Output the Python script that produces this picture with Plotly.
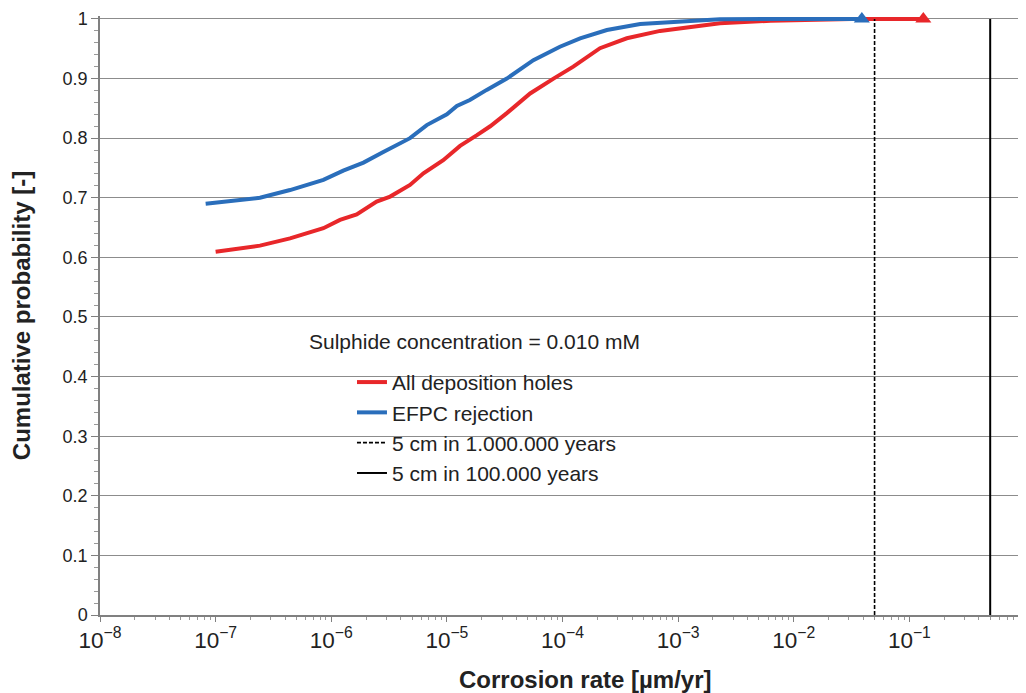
import plotly.graph_objects as go

# ---- data ----
all_rate = [1e-7, 2.42e-7, 4.4e-7, 8.55e-7, 1.19e-6, 1.66e-6, 2.47e-6, 3.23e-6, 4.8e-6,
            6.27e-6, 9.3e-6, 1.3e-5, 1.82e-5, 2.37e-5, 3.3e-5, 5.25e-5, 8.36e-5, 1.24e-4,
            2.11e-4, 3.6e-4, 6.98e-4, 1.19e-3, 2.3e-3, 6.3e-3, 1.58e-2, 3.16e-2, 0.132]
all_prob = [0.6096, 0.6197, 0.632, 0.649, 0.663, 0.672, 0.6935, 0.702, 0.7215,
            0.741, 0.763, 0.787, 0.805, 0.820, 0.842, 0.875, 0.900, 0.920,
            0.951, 0.9676, 0.980, 0.986, 0.993, 0.997, 0.999, 1.0, 1.0]

efpc_rate = [8.2e-8, 2.42e-7, 4.4e-7, 8.55e-7, 1.27e-6, 1.9e-6, 2.82e-6, 4.8e-6, 6.7e-6,
             1.0e-5, 1.22e-5, 1.58e-5, 2.21e-5, 3.3e-5, 5.6e-5, 9.5e-5, 1.42e-4, 2.42e-4,
             4.7e-4, 9.1e-4, 2.3e-3, 1e-2, 0.0388]
efpc_prob = [0.690, 0.700, 0.713, 0.730, 0.7455, 0.759, 0.777, 0.800, 0.822,
             0.840, 0.854, 0.864, 0.881, 0.900, 0.931, 0.9535, 0.9676, 0.9815,
             0.9916, 0.9955, 0.9995, 1.0, 1.0]

limit_names = ["5 cm in 1.000.000 years", "5 cm in 100.000 years"]
limit_rates = [0.05, 0.5]

series_names = ["All deposition holes", "EFPC rejection"]
annotation_text = "Sulphide concentration = 0.010 mM"
x_title = "Corrosion rate [µm/yr]"
y_title = "Cumulative probability [-]"

RED = "#E8272A"
BLUE = "#2A6EBB"
FONT = "Liberation Sans, Arial, sans-serif"
TXT = "#222222"
GRID = "#8C8C8C"
YTOP = 1.005  # small headroom so the lines at probability 1 are not clipped

fig = go.Figure()

for name, xs, ys, col in [(series_names[0], all_rate, all_prob, RED),
                          (series_names[1], efpc_rate, efpc_prob, BLUE)]:
    fig.add_trace(go.Scatter(x=xs, y=ys, mode="lines", name=name,
                             line=dict(color=col, width=4), legendgroup=name))
    fig.add_trace(go.Scatter(x=[xs[-1]], y=[ys[-1]], mode="markers", showlegend=False,
                             legendgroup=name, cliponaxis=False,
                             marker=dict(symbol="triangle-up", size=14, color=col)))

for name, r, dash, w in [(limit_names[0], limit_rates[0], "4px,2px", 1.6),
                         (limit_names[1], limit_rates[1], "solid", 2)]:
    fig.add_trace(go.Scatter(x=[r, r], y=[0, 1], mode="lines", name=name, legendgroup=name,
                             line=dict(color="black", width=w, dash=dash)))

# white box behind the legend (covers the grid lines, as in the reference)
fig.add_shape(type="rect", xref="paper", yref="paper", x0=0.2216, x1=0.591, y0=0.21, y1=0.4225,
              fillcolor="white", line=dict(width=0), layer="between")

fig.add_annotation(text=annotation_text, xref="paper", yref="paper", x=0.405, y=0.456,
                   showarrow=False, xanchor="center", yanchor="middle",
                   font=dict(family=FONT, size=21, color=TXT))
fig.add_annotation(text="<b>" + x_title + "</b>", xref="paper", yref="paper", x=0.525, y=-0.1085,
                   showarrow=False, xanchor="center", yanchor="middle",
                   font=dict(family=FONT, size=24, color=TXT))

fig.update_layout(
    width=1018, height=685,
    margin=dict(l=92, r=1, t=8, b=78),
    paper_bgcolor="white", plot_bgcolor="white",
    font=dict(family=FONT, size=18, color=TXT),
    legend=dict(x=0.2724, y=0.4225, xanchor="left", yanchor="top",
                bgcolor="rgba(0,0,0,0)", borderwidth=0, tracegroupgap=0,
                font=dict(family=FONT, size=21, color=TXT)),
    xaxis=dict(type="log", range=[-8, 0], dtick=1, exponentformat="power",
               showexponent="all", showgrid=False, zeroline=False,
               showline=True, linecolor="#808080", linewidth=1.5,
               ticks="outside", ticklen=5, tickcolor="#808080",
               minor=dict(ticks="outside", ticklen=3, tickcolor="#999999", dtick="D1", showgrid=False),
               tickfont=dict(size=18, color=TXT), automargin=False),
    yaxis=dict(range=[0, YTOP], tick0=0, dtick=0.1, showgrid=True, gridcolor=GRID, gridwidth=1,
               zeroline=False, showline=True, linecolor="#808080", linewidth=1.5,
               ticks="outside", ticklen=7, tickcolor="#808080",
               minor=dict(ticks="outside", ticklen=4, tickcolor="#999999", dtick=0.02, showgrid=False),
               tickfont=dict(size=18, color=TXT), automargin=False,
               title=dict(text="<b>" + y_title + "</b>", standoff=25,
                          font=dict(size=24, color=TXT))),
)

fig.write_html("out.html")
